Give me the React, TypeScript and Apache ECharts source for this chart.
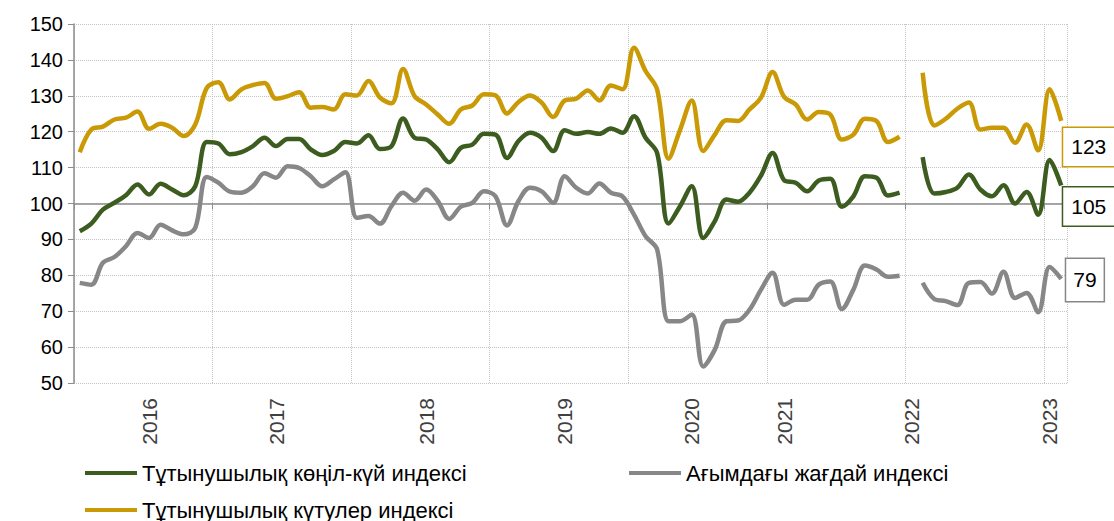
import React, { useEffect, useRef } from "react";
import * as echarts from "echarts";

// Monthly categories Jan 2016 .. Feb 2023 (Jan 2022 has no survey)
const years = [2016, 2017, 2018, 2019, 2020, 2021, 2022, 2023];
const monthNames = ["01", "02", "03", "04", "05", "06", "07", "08", "09", "10", "11", "12"];
const categories: string[] = [];
years.forEach((y) => monthNames.forEach((m) => categories.push(`${y}-${m}`)));
categories.length = 86;

// Year tick labels and the category index where each is written
const yearLabelIndex = [6, 17, 30, 42, 53, 61, 72, 84];
const yearLabels = ["2016", "2017", "2018", "2019", "2020", "2021", "2022", "2023"];

const seriesNames = [
  "Тұтынушылық көңіл-күй индексі",
  "Ағымдағы жағдай индексі",
  "Тұтынушылық күтулер индексі",
];

// Тұтынушылық көңіл-күй индексі (consumer sentiment index)
const sentiment = [
  92.3, 94.4, 98.3, 100.2, 102.3, 105.3, 102.5, 105.5, 103.9, 102.3, 104.8, 117.1,
  116.7, 113.7, 114.3, 116.0, 118.3, 116.0, 118.0, 118.0, 115.1, 113.5, 114.6, 117.1,
  116.7, 119.0, 115.2, 116.0, 123.7, 118.3, 117.8, 115.1, 111.5, 115.5, 116.4, 119.4,
  119.2, 112.7, 117.4, 119.7, 118.3, 114.6, 120.4, 119.4, 119.9, 119.4, 120.9, 119.7,
  124.3, 118.3, 114.1, 94.4, 99.3, 104.8, 90.4, 95.1, 101.1, 100.5, 103.0, 107.8,
  114.1, 106.5, 105.8, 103.4, 106.4, 106.9, 99.1, 102.0, 107.6, 107.2, 102.2, 103.0,
  null, 112.9, 102.8, 103.2, 104.4, 108.1, 103.9, 102.0, 105.1, 100.0, 103.2, 96.9, 112.1, 105.0,
];

// Ағымдағы жағдай индексі (current situation index)
const current = [
  77.9, 77.4, 83.5, 85.1, 88.1, 91.8, 90.4, 94.1, 92.5, 91.4, 93.2, 107.4,
  105.8, 103.3, 103.0, 104.8, 108.4, 107.2, 110.4, 109.9, 107.6, 104.8, 106.7, 108.7,
  96.0, 96.5, 94.4, 99.3, 103.0, 100.8, 103.9, 100.7, 95.7, 99.1, 100.2, 103.4,
  102.0, 93.9, 100.7, 104.4, 103.4, 100.2, 107.6, 104.4, 102.8, 105.6, 103.0, 102.0,
  96.9, 90.9, 87.2, 67.2, 67.2, 69.1, 54.6, 59.3, 67.2, 67.4, 70.4, 76.0,
  80.7, 71.8, 73.2, 73.2, 77.4, 78.3, 70.6, 76.0, 82.7, 81.6, 79.6, 79.9,
  null, 77.9, 73.4, 72.8, 71.7, 77.9, 78.1, 74.9, 81.0, 73.7, 75.1, 69.7, 82.3, 79.0,
];

// Тұтынушылық күтулер индексі (consumer expectations index)
const expectations = [
  114.3, 120.6, 121.4, 123.4, 123.9, 125.6, 120.8, 122.2, 121.1, 118.8, 122.0, 132.2,
  133.8, 129.0, 131.8, 133.0, 133.6, 129.2, 129.9, 131.0, 126.7, 126.9, 126.2, 130.4,
  130.1, 134.1, 129.5, 127.9, 137.5, 129.9, 127.6, 124.8, 122.2, 126.2, 127.3, 130.4,
  130.1, 125.1, 128.3, 130.1, 128.1, 124.1, 128.7, 129.2, 131.5, 128.7, 132.9, 131.8,
  143.4, 136.9, 131.8, 112.5, 120.6, 128.7, 114.6, 119.2, 123.2, 123.0, 126.2, 129.5,
  136.6, 129.7, 127.6, 123.4, 125.5, 124.8, 117.8, 119.2, 123.6, 123.0, 117.1, 118.6,
  null, 136.4, 121.7, 123.6, 126.4, 128.1, 120.6, 121.1, 121.1, 116.9, 122.0, 114.8, 131.8, 123.0,
];

const GREEN = "#3D5C1F";
const GRAY = "#878787";
const GOLD = "#C99A06";
const GRID = "#C4C4C4";
const AXIS = "#8C8C8C";
const FONT = "'Liberation Sans', Arial, sans-serif";

function endLabel(color: string, offset: number[], padding: number[]) {
  return {
    show: true,
    distance: 2,
    offset,
    formatter: (p: any) => String(Math.round(Array.isArray(p.value) ? p.value[1] : p.value)),
    color: "#000",
    fontSize: 21,
    fontFamily: FONT,
    backgroundColor: "#fff",
    borderColor: color,
    borderWidth: 1.5,
    padding,
  };
}

export default function App() {
  const ref = useRef<HTMLDivElement>(null);
  useEffect(() => {
    if (!ref.current) return;
    const chart = echarts.init(ref.current, undefined, { renderer: "svg" });
    const lineSeries = (name: string, data: any[], color: string, label: any) => ({
      name,
      type: "line",
      data,
      smooth: 0.35,
      symbol: "none",
      connectNulls: false,
      lineStyle: { color, width: 4.5 },
      itemStyle: { color },
      endLabel: label,
      z: 3,
    });
    const legendBase = {
      padding: 0,
      icon: "rect",
      itemWidth: 52,
      itemHeight: 4,
      itemGap: 6,
      textStyle: { fontSize: 22, color: "#000", fontFamily: FONT },
    };
    chart.setOption({
      animation: false,
      textStyle: { fontFamily: FONT },
      grid: { left: 74, right: 47, top: 24, bottom: 138, containLabel: false },
      legend: [
        { ...legendBase, data: [seriesNames[0]], left: 85, top: 462 },
        { ...legendBase, data: [seriesNames[1]], left: 629, top: 462 },
        { ...legendBase, data: [seriesNames[2]], left: 85, top: 499 },
      ],
      xAxis: [
        {
          type: "category",
          data: categories,
          boundaryGap: true,
          position: "bottom",
          axisLine: { show: false },
          axisTick: { show: false },
          splitLine: {
            show: true,
            interval: 11,
            lineStyle: { color: GRID, type: "dotted", width: 1 },
          },
          axisLabel: {
            interval: (i: number) => yearLabelIndex.includes(i),
            formatter: (_v: string, i: number) => {
              const k = yearLabelIndex.indexOf(i);
              return k >= 0 ? yearLabels[k] : "";
            },
            rotate: 90,
            margin: 15,
            fontSize: 21,
            color: "#404040",
            fontFamily: FONT,
          },
        },
        {
          type: "category",
          data: categories,
          boundaryGap: true,
          position: "bottom",
          offset: -179.5,
          axisLine: { show: true, lineStyle: { color: AXIS, width: 1.5 } },
          axisTick: { show: true, interval: 11, length: 6, lineStyle: { color: AXIS, width: 1 } },
          axisLabel: { show: false },
          splitLine: { show: false },
        },
      ],
      yAxis: {
        type: "value",
        min: 50,
        max: 150,
        interval: 10,
        axisLine: { show: true, lineStyle: { color: AXIS, width: 1.5 } },
        axisTick: { show: true, length: 6, lineStyle: { color: AXIS } },
        axisLabel: { fontSize: 20, color: "#000", margin: 11, fontFamily: FONT },
        splitLine: { show: true, lineStyle: { color: GRID, type: "dotted", width: 1 } },
      },
      series: [
        lineSeries(seriesNames[0], sentiment, GREEN, endLabel(GREEN, [0, 21], [9, 8, 8, 8])),
        lineSeries(seriesNames[1], current, GRAY, endLabel(GRAY, [3, 1], [11, 7, 10, 7])),
        lineSeries(seriesNames[2], expectations, GOLD, endLabel(GOLD, [0, 26], [9, 8, 8, 8])),
      ],
    });
    return () => chart.dispose();
  }, []);
  return (
    <div
      ref={ref}
      style={{ position: "absolute", left: 0, top: 0, width: 1114, height: 521, background: "#fff" }}
    />
  );
}
